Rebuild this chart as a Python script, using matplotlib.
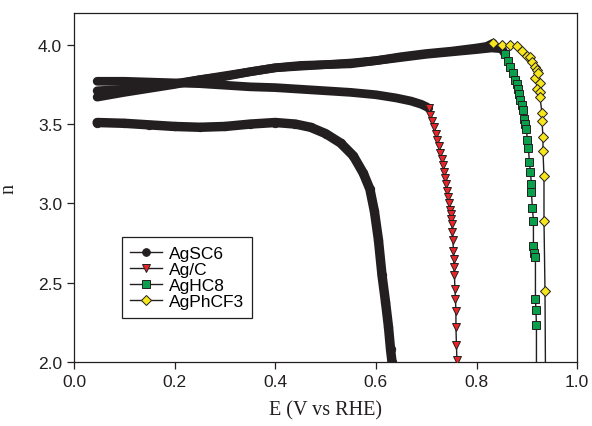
import matplotlib as mpl
mpl.use("Agg")
import matplotlib.pyplot as plt

# AgSC6 (black circles, dense all the way)
sc6_E = [0.046, 0.10, 0.15, 0.20, 0.25, 0.30, 0.35, 0.40, 0.44, 0.47, 0.50, 0.53,
         0.555, 0.575, 0.588, 0.597, 0.605, 0.612, 0.619, 0.625, 0.629, 0.632]
sc6_n = [3.51, 3.505, 3.495, 3.485, 3.48, 3.485, 3.50, 3.51, 3.50, 3.48, 3.44, 3.38,
         3.30, 3.19, 3.09, 2.95, 2.77, 2.55, 2.38, 2.22, 2.08, 2.00]

# Ag/C (red triangles)
agc_E = [0.046, 0.10, 0.15, 0.20, 0.25, 0.30, 0.35, 0.40, 0.45, 0.50, 0.55, 0.60,
         0.64, 0.67, 0.69, 0.700,
         0.705, 0.708, 0.712, 0.716, 0.719, 0.722, 0.725, 0.728, 0.731, 0.734, 0.736,
         0.738, 0.740, 0.742, 0.744, 0.746, 0.747, 0.749, 0.750, 0.751, 0.752, 0.753,
         0.754, 0.755, 0.755, 0.756, 0.757, 0.758, 0.759, 0.759, 0.760, 0.761]
agc_n = [3.77, 3.77, 3.765, 3.76, 3.755, 3.745, 3.735, 3.73, 3.72, 3.71, 3.70, 3.685,
         3.665, 3.645, 3.625, 3.61,
         3.60, 3.56, 3.52, 3.48, 3.44, 3.40, 3.36, 3.32, 3.28, 3.24, 3.20,
         3.16, 3.12, 3.08, 3.04, 3.00, 2.96, 2.93, 2.90, 2.87, 2.82, 2.77,
         2.70, 2.65, 2.60, 2.55, 2.46, 2.40, 2.32, 2.22, 2.11, 2.01]
agc_start = 16

# AgHC8 (green squares)
hc8_E = [0.046, 0.10, 0.15, 0.20, 0.25, 0.30, 0.35, 0.40, 0.45, 0.50, 0.55, 0.60,
         0.65, 0.70, 0.75, 0.80, 0.83, 0.85,
         0.857, 0.862, 0.867, 0.872, 0.877, 0.880, 0.883, 0.885, 0.887, 0.890, 0.893,
         0.895, 0.897, 0.899, 0.901, 0.903, 0.905, 0.907, 0.909, 0.909, 0.911, 0.913,
         0.913, 0.915, 0.917, 0.917, 0.918, 0.919]
hc8_n = [3.71, 3.72, 3.735, 3.755, 3.78, 3.805, 3.83, 3.855, 3.87, 3.875, 3.88, 3.90,
         3.92, 3.94, 3.955, 3.97, 3.98, 3.975,
         3.94, 3.90, 3.86, 3.82, 3.78, 3.75, 3.72, 3.69, 3.65, 3.62, 3.59,
         3.53, 3.50, 3.47, 3.40, 3.35, 3.26, 3.20, 3.12, 3.07, 2.97, 2.89,
         2.73, 2.69, 2.66, 2.40, 2.33, 2.23]
hc8_start = 18

# AgPhCF3 (yellow diamonds)
cf3_E = [0.046, 0.10, 0.15, 0.20, 0.25, 0.30, 0.35, 0.40, 0.45, 0.50, 0.55, 0.60,
         0.65, 0.70, 0.75, 0.80, 0.82,
         0.833, 0.851, 0.867, 0.880, 0.891, 0.900, 0.906, 0.910, 0.917, 0.920, 0.916,
         0.922, 0.926, 0.920, 0.926, 0.926, 0.930, 0.930, 0.932, 0.932, 0.934, 0.934,
         0.936]
cf3_n = [3.67, 3.70, 3.725, 3.75, 3.78, 3.80, 3.83, 3.855, 3.865, 3.875, 3.885, 3.90,
         3.925, 3.945, 3.96, 3.98, 3.99,
         4.01, 4.00, 4.00, 3.99, 3.96, 3.93, 3.92, 3.89, 3.86, 3.84, 3.79,
         3.82, 3.76, 3.72, 3.70, 3.67, 3.57, 3.52, 3.42, 3.33, 3.17, 2.89,
         2.45]
cf3_start = 17

series = [
    ("AgSC6", sc6_E, sc6_n, 0, "o", "#231f20", 6),
    ("Ag/C", agc_E, agc_n, agc_start, "v", "#e8262a", 5.5),
    ("AgHC8", hc8_E, hc8_n, hc8_start, "s", "#0aa04b", 5.2),
    ("AgPhCF3", cf3_E, cf3_n, cf3_start, "D", "#f6e61b", 5.4),
]
# the two vertical lines run on past the bottom of the axes
hc8_E.append(0.919)
hc8_n.append(1.90)
cf3_E.append(0.937)
cf3_n.append(1.90)

plt.rcParams['font.family'] = ['Liberation Sans', 'DejaVu Sans']
fig = plt.figure(figsize=(5.92, 4.27), dpi=100)
ax = fig.add_axes([0.125, 0.150, 0.850, 0.817])

band = "#231f20"
for name, E, n, k, m, c, ms in series:
    # dense marker region drawn as a solid band
    if name == "AgSC6":
        ax.plot(E, n, color=band, lw=6.8, solid_capstyle="round", zorder=2)
    else:
        ax.plot(E[:k + 1], n[:k + 1], color=band, lw=6.3, solid_capstyle="round", zorder=2)
    last = len(n) - 1 if name in ("AgHC8", "AgPhCF3") else len(n)
    idx = list(range(k, last))
    ax.plot(E[k:], n[k:], color="#231f20", lw=1.0, zorder=3)
    ax.plot([E[i] for i in idx], [n[i] for i in idx], ls="none", marker=m, ms=ms,
            mfc=c, mec="#231f20", mew=0.7, zorder=4)

# legend proxies
handles = []
for name, E, n, k, m, c, ms in series:
    h, = ax.plot([], [], color="#231f20", lw=1.0, marker=m, ms=5.5,
                 mfc=c, mec="#231f20", mew=0.7, label=name)
    handles.append(h)
leg = ax.legend(handles=handles, loc="upper left", bbox_to_anchor=(0.095, 0.358),
                borderaxespad=0, fancybox=False, edgecolor="#231f20", fontsize=12.5,
                handlelength=1.8, handletextpad=0.4, labelspacing=0.05,
                borderpad=0.5, framealpha=1)
leg.get_frame().set_linewidth(0.9)

ax.set_xlim(0, 1.0)
ax.set_ylim(2.0, 4.2)
ax.set_xticks([0.0, 0.2, 0.4, 0.6, 0.8, 1.0])
ax.set_yticks([2.0, 2.5, 3.0, 3.5, 4.0])
ax.set_xticklabels(["0.0", "0.2", "0.4", "0.6", "0.8", "1.0"])
ax.set_yticklabels(["2.0", "2.5", "3.0", "3.5", "4.0"])
ax.tick_params(axis="both", direction="out", length=5, width=0.9, labelsize=12.5,
               colors="#231f20", top=False, right=False)
for s in ax.spines.values():
    s.set_linewidth(0.9)
    s.set_color("#231f20")

ax.set_xlabel("E (V vs RHE)", family=["Liberation Serif", "DejaVu Serif"], fontsize=14.5,
              color="#231f20", labelpad=8)
ax.set_ylabel("n", family=["Liberation Serif", "DejaVu Serif"], fontsize=14.5,
              color="#231f20", labelpad=14)

fig.savefig("out.png", dpi=100)
